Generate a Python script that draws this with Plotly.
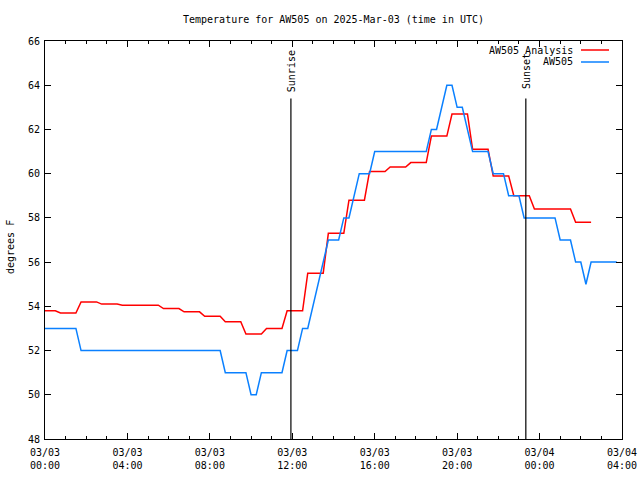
import plotly.graph_objects as go

# ---------------- data ----------------
analysis_times = [
    "2025-03-03 00:00", "2025-03-03 00:30", "2025-03-03 00:45", "2025-03-03 01:30",
    "2025-03-03 01:45", "2025-03-03 02:30", "2025-03-03 02:45", "2025-03-03 03:30",
    "2025-03-03 03:45", "2025-03-03 05:30", "2025-03-03 05:45", "2025-03-03 06:30",
    "2025-03-03 06:45", "2025-03-03 07:30", "2025-03-03 07:45", "2025-03-03 08:30",
    "2025-03-03 08:45", "2025-03-03 09:30", "2025-03-03 09:45", "2025-03-03 10:30",
    "2025-03-03 10:45", "2025-03-03 11:30", "2025-03-03 11:45", "2025-03-03 12:30",
    "2025-03-03 12:45", "2025-03-03 13:30", "2025-03-03 13:45", "2025-03-03 14:30",
    "2025-03-03 14:45", "2025-03-03 15:30", "2025-03-03 15:45", "2025-03-03 16:30",
    "2025-03-03 16:45", "2025-03-03 17:30", "2025-03-03 17:45", "2025-03-03 18:30",
    "2025-03-03 18:45", "2025-03-03 19:30", "2025-03-03 19:45", "2025-03-03 20:30",
    "2025-03-03 20:45", "2025-03-03 21:30", "2025-03-03 21:45", "2025-03-03 22:30",
    "2025-03-03 22:45", "2025-03-03 23:30", "2025-03-03 23:45", "2025-03-04 01:30",
    "2025-03-04 01:45", "2025-03-04 02:30",
]
analysis_temps = [
    53.8, 53.8, 53.7, 53.7,
    54.2, 54.2, 54.1, 54.1,
    54.05, 54.05, 53.9, 53.9,
    53.75, 53.75, 53.55, 53.55,
    53.3, 53.3, 52.75, 52.75,
    53.0, 53.0, 53.8, 53.8,
    55.5, 55.5, 57.3, 57.3,
    58.8, 58.8, 60.1, 60.1,
    60.3, 60.3, 60.5, 60.5,
    61.7, 61.7, 62.7, 62.7,
    61.1, 61.1, 59.9, 59.9,
    59.0, 59.0, 58.4, 58.4,
    57.8, 57.8,
]

obs_times = [
    "2025-03-03 00:00", "2025-03-03 01:30", "2025-03-03 01:45", "2025-03-03 08:30",
    "2025-03-03 08:45", "2025-03-03 09:45", "2025-03-03 10:00", "2025-03-03 10:15",
    "2025-03-03 10:30", "2025-03-03 11:30", "2025-03-03 11:45", "2025-03-03 12:15",
    "2025-03-03 12:30", "2025-03-03 12:45", "2025-03-03 13:45", "2025-03-03 14:15",
    "2025-03-03 14:30", "2025-03-03 14:45", "2025-03-03 15:15", "2025-03-03 15:45",
    "2025-03-03 16:00", "2025-03-03 18:30", "2025-03-03 18:45", "2025-03-03 19:00",
    "2025-03-03 19:30", "2025-03-03 19:45", "2025-03-03 20:00", "2025-03-03 20:15",
    "2025-03-03 20:45", "2025-03-03 21:30", "2025-03-03 21:45", "2025-03-03 22:15",
    "2025-03-03 22:30", "2025-03-03 23:00", "2025-03-03 23:15", "2025-03-04 00:45",
    "2025-03-04 01:00", "2025-03-04 01:30", "2025-03-04 01:45", "2025-03-04 02:00",
    "2025-03-04 02:15", "2025-03-04 02:30", "2025-03-04 03:45",
]
obs_temps = [
    53, 53, 52, 52,
    51, 51, 50, 50,
    51, 51, 52, 52,
    53, 53, 57, 57,
    58, 58, 60, 60,
    61, 61, 62, 62,
    64, 64, 63, 63,
    61, 61, 60, 60,
    59, 59, 58, 58,
    57, 57, 56, 56,
    55, 56, 56,
]

event_times = ["2025-03-03 11:56", "2025-03-03 23:20"]
event_labels = ["Sunrise", "Sunset"]

x_tick_vals = ["2025-03-03 00:00", "2025-03-03 04:00", "2025-03-03 08:00",
               "2025-03-03 12:00", "2025-03-03 16:00", "2025-03-03 20:00",
               "2025-03-04 00:00", "2025-03-04 04:00"]
x_tick_text = ["03/03<br>00:00", "03/03<br>04:00", "03/03<br>08:00",
               "03/03<br>12:00", "03/03<br>16:00", "03/03<br>20:00",
               "03/04<br>00:00", "03/04<br>04:00"]

series_names = ["AW505 Analysis", "AW505"]
series_colors = ["#ff0000", "#0a80ff"]

title_text = "Temperature for AW505 on 2025-Mar-03 (time in UTC)"
y_label = "degrees F"

# ---------------- figure ----------------
FONT = "DejaVu Sans Mono"
LW = 1.5
fig = go.Figure()
fig.add_trace(go.Scatter(x=analysis_times, y=analysis_temps, mode="lines",
                         name=series_names[0],
                         line=dict(color=series_colors[0], width=LW)))
fig.add_trace(go.Scatter(x=obs_times, y=obs_temps, mode="lines",
                         name=series_names[1],
                         line=dict(color=series_colors[1], width=LW)))

# Sunrise / sunset markers
for t, lab in zip(event_times, event_labels):
    fig.add_shape(type="line", xref="x", yref="y", x0=t, x1=t, y0=48, y1=63.4,
                  line=dict(color="black", width=1.2))
    fig.add_annotation(x=t, y=64.63, xref="x", yref="y", text=lab, textangle=-90,
                       showarrow=False, xanchor="center", yanchor="middle",
                       font=dict(family=FONT, size=10, color="black"))

# Custom gnuplot-style legend (text left of sample line)
legend_y_px = [50, 62]
for name, col, ypx in zip(series_names, series_colors, legend_y_px):
    py = (439 - ypx) / 398.0
    fig.add_annotation(x=(575 - 45) / 577.0, y=py, xref="paper", yref="paper",
                       text=name, showarrow=False, xanchor="right", yanchor="middle",
                       font=dict(family=FONT, size=10, color="black"))
    fig.add_shape(type="line", xref="paper", yref="paper",
                  x0=(581 - 45) / 577.0, x1=(609 - 45) / 577.0, y0=py, y1=py,
                  line=dict(color=col, width=LW))

# y-axis label
fig.add_annotation(x=(10 - 45) / 577.0, y=(439 - 247) / 398.0, xref="paper", yref="paper",
                   text=y_label, textangle=-90, showarrow=False,
                   xanchor="center", yanchor="middle",
                   font=dict(family=FONT, size=10, color="black"))

fig.update_layout(
    width=640, height=480,
    margin=dict(l=45, r=18, t=41, b=41, autoexpand=False),
    paper_bgcolor="white", plot_bgcolor="white",
    showlegend=False,
    font=dict(family=FONT, size=10, color="black"),
    title=dict(text=title_text, x=(333.5) / 640, xanchor="center",
               y=1 - 19 / 480, yanchor="middle", yref="container",
               font=dict(family=FONT, size=10, color="black")),
)
fig.update_xaxes(
    type="date", range=["2025-03-03 00:00", "2025-03-04 04:00"],
    tickvals=x_tick_vals, ticktext=x_tick_text, automargin=False,
    ticks="inside", ticklen=6, tickcolor="black", tickwidth=1,
    ticklabelstandoff=4,
    minor=dict(dtick=3600000, ticks="inside", ticklen=3, tickcolor="black", tickwidth=1),
    showline=True, linecolor="black", linewidth=1, mirror="allticks",
    showgrid=False, zeroline=False,
    tickfont=dict(family=FONT, size=10, color="black"),
)
fig.update_yaxes(
    range=[48, 66], dtick=2, tick0=48, automargin=False,
    ticks="inside", ticklen=6, tickcolor="black", tickwidth=1,
    ticklabelstandoff=2,
    showline=True, linecolor="black", linewidth=1, mirror="allticks",
    showgrid=False, zeroline=False,
    tickfont=dict(family=FONT, size=10, color="black"),
)

fig.write_html("out.html", config={"displayModeBar": False},
               post_script="document.body.style.margin='0';document.body.style.overflow='hidden';")
